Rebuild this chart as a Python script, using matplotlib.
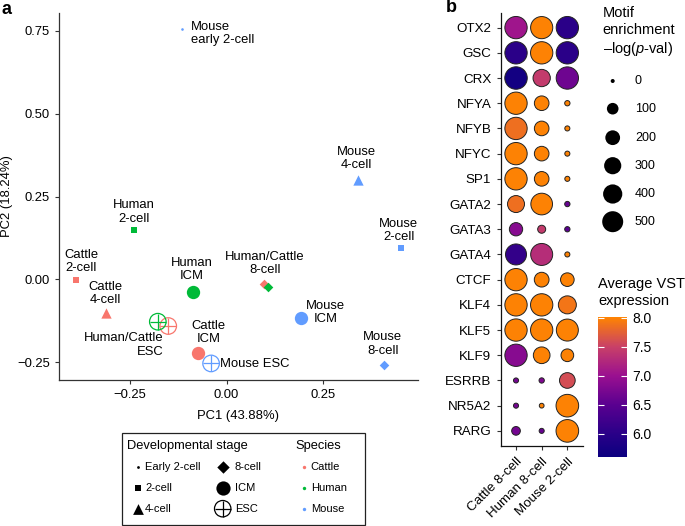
import numpy as np
import matplotlib
matplotlib.use("Agg")
import matplotlib.pyplot as plt
from matplotlib.colors import LinearSegmentedColormap, Normalize
from matplotlib.cm import ScalarMappable
from matplotlib.patches import Rectangle

plt.rcParams['font.family'] = ['Liberation Sans', 'DejaVu Sans']
plt.rcParams['mathtext.fontset'] = 'custom'
plt.rcParams['mathtext.rm'] = 'Liberation Sans'
plt.rcParams['mathtext.it'] = 'Liberation Sans:italic'

# ---------------- Panel a data ----------------
samples = ['Cattle 2-cell', 'Cattle 4-cell', 'Cattle 8-cell', 'Cattle ICM', 'Cattle ESC',
           'Human 2-cell', 'Human 8-cell', 'Human ICM', 'Human ESC',
           'Mouse early 2-cell', 'Mouse 2-cell', 'Mouse 4-cell', 'Mouse 8-cell', 'Mouse ICM', 'Mouse ESC']
species = ['Cattle'] * 5 + ['Human'] * 4 + ['Mouse'] * 6
stage = ['2-cell', '4-cell', '8-cell', 'ICM', 'ESC',
         '2-cell', '8-cell', 'ICM', 'ESC',
         'Early 2-cell', '2-cell', '4-cell', '8-cell', 'ICM', 'ESC']
pc1 = [-0.390, -0.313, 0.097, -0.074, -0.151,
       -0.239, 0.107, -0.086, -0.178,
       -0.115, 0.451, 0.341, 0.409, 0.193, -0.040]
pc2 = [-0.002, -0.103, -0.014, -0.222, -0.141,
       0.149, -0.024, -0.037, -0.128,
       0.755, 0.094, 0.300, -0.258, -0.118, -0.254]

label_texts = ['Mouse\nearly 2-cell', 'Mouse\n4-cell', 'Mouse\n2-cell', 'Human\n2-cell',
               'Cattle\n2-cell', 'Cattle\n4-cell', 'Human\nICM', 'Human/Cattle\n8-cell',
               'Mouse\nICM', 'Mouse\n8-cell', 'Cattle\nICM', 'Human/Cattle\nESC', 'Mouse ESC']
label_x = [-0.0925, 0.337, 0.446, -0.240, -0.376, -0.313, -0.089, 0.099, 0.256, 0.405, -0.047, -0.164, -0.0174]
label_y = [0.742, 0.364, 0.147, 0.203, 0.053, -0.0435, 0.0305, 0.047, -0.101, -0.195, -0.160, -0.1985, -0.257]
label_ha = ['left', 'center', 'center', 'center', 'center', 'center', 'center', 'center',
            'center', 'center', 'center', 'right', 'left']

species_list = ['Cattle', 'Human', 'Mouse']
species_colors = {'Cattle': '#F8766D', 'Human': '#00BA38', 'Mouse': '#619CFF'}
stage_list = ['Early 2-cell', '2-cell', '4-cell', '8-cell', 'ICM', 'ESC']
stage_marker = {'Early 2-cell': 'o', '2-cell': 's', '4-cell': '^', '8-cell': 'D', 'ICM': 'o', 'ESC': 'o'}
stage_size = {'Early 2-cell': 3.5, '2-cell': 14, '4-cell': 55, '8-cell': 24, 'ICM': 92, 'ESC': 142}

# ---------------- Panel b data ----------------
tfs = ['OTX2', 'GSC', 'CRX', 'NFYA', 'NFYB', 'NFYC', 'SP1', 'GATA2', 'GATA3', 'GATA4',
       'CTCF', 'KLF4', 'KLF5', 'KLF9', 'ESRRB', 'NR5A2', 'RARG']
groups = ['Cattle 8-cell', 'Human 8-cell', 'Mouse 2-cell']
enrich_cattle = [580, 580, 590, 580, 580, 580, 580, 292, 150, 500, 580, 580, 580, 580, 2, 2, 38]
enrich_human = [570, 580, 306, 195, 195, 195, 195, 540, 28, 560, 200, 580, 580, 278, 3, 1, 2]
enrich_mouse = [580, 580, 580, 3, 2, 2, 2, 3, 3, 2, 160, 339, 560, 131, 236, 600, 600]
expr_cattle = [7.05, 6.0, 5.7, 8.0, 7.85, 8.0, 8.0, 7.85, 6.85, 6.1, 8.0, 8.0, 8.0, 6.85, 6.7, 6.7, 6.7]
expr_human = [8.0, 8.0, 7.45, 8.0, 8.0, 8.0, 8.0, 8.0, 7.45, 7.3, 8.0, 8.0, 8.0, 8.0, 6.8, 8.0, 6.6]
expr_mouse = [6.0, 6.0, 6.65, 8.0, 8.0, 8.0, 8.0, 6.6, 6.5, 8.0, 8.0, 7.9, 8.0, 8.0, 7.6, 8.0, 8.0]
size_legend_values = [0, 100, 200, 300, 400, 500]
cbar_ticks = [6.0, 6.5, 7.0, 7.5, 8.0]

enrich = [enrich_cattle, enrich_human, enrich_mouse]
expr = [expr_cattle, expr_human, expr_mouse]

vmin, vmax = 5.6, 8.02
cmap = LinearSegmentedColormap.from_list('vst', [
    (0.0, '#0C0080'),
    ((6.0 - vmin) / (vmax - vmin), '#2A0088'),
    ((6.5 - vmin) / (vmax - vmin), '#5A0090'),
    ((7.0 - vmin) / (vmax - vmin), '#9A1090'),
    ((7.5 - vmin) / (vmax - vmin), '#C84068'),
    (1.0, '#FF8400')])
norm = Normalize(vmin=vmin, vmax=vmax)


def bubble_area(v):
    d = 4 + 17 * np.sqrt(np.asarray(v, dtype=float) / 500.0)
    return (d * 72.0 / 100.0) ** 2


W, H = 685, 526
fig = plt.figure(figsize=(W / 100, H / 100), dpi=100)

# ---------------- Panel a ----------------
ax = fig.add_axes([59 / W, 1 - 380 / H, 359 / W, 367 / H])
ax.set_xlim(-0.434, 0.496)
ax.set_ylim(-0.304, 0.804)
for i in range(len(samples)):
    col = species_colors[species[i]]
    st = stage[i]
    if st == 'ESC':
        ax.scatter(pc1[i], pc2[i], s=stage_size[st], marker='o', facecolor='none',
                   edgecolor=col, linewidth=0.9, zorder=3)
        ax.scatter(pc1[i], pc2[i], s=stage_size[st], marker='+', color=col,
                   linewidth=0.9, zorder=3)
    else:
        ax.scatter(pc1[i], pc2[i], s=stage_size[st], marker=stage_marker[st], color=col,
                   linewidth=0, zorder=3)
for t, x, y, ha in zip(label_texts, label_x, label_y, label_ha):
    ax.text(x, y, t, ha=ha, va='center', fontsize=9.4, multialignment=ha, linespacing=1.15,
            zorder=4)
ax.set_xticks([-0.25, 0.0, 0.25])
ax.set_xticklabels(['\u22120.25', '0.00', '0.25'])
ax.set_yticks([-0.25, 0.0, 0.25, 0.5, 0.75])
ax.set_yticklabels(['\u22120.25', '0.00', '0.25', '0.50', '0.75'])
for sp in ['top', 'right']:
    ax.spines[sp].set_visible(False)
for sp in ['left', 'bottom']:
    ax.spines[sp].set_linewidth(0.9)
    ax.spines[sp].set_color('#333333')
ax.tick_params(length=3, width=0.8, color='#333333', labelsize=9.4, pad=3.5)
ax.set_xlabel('PC1 (43.88%)', fontsize=9.4)
ax.set_ylabel('PC2 (18.24%)', fontsize=9.4)
ax.xaxis.set_label_coords(0.5, (380 - 416) / 367)
ax.xaxis.label.set_va('center')
ax.yaxis.set_label_coords((7 - 59) / 359, 0.5)
ax.yaxis.label.set_va('center')

# ---------------- Panel b ----------------
axb = fig.add_axes([501 / W, 1 - 446 / H, 82 / W, 433 / H])
ypos = np.arange(len(tfs), 0, -1)
for j in range(len(groups)):
    axb.scatter(np.full(len(tfs), j + 1), ypos, s=bubble_area(enrich[j]), c=expr[j],
                cmap=cmap, norm=norm, edgecolor='#222222', linewidth=0.7, zorder=3)
axb.set_xlim(0.415, 3.61)
axb.set_ylim(0.4, 17.58)
axb.set_yticks(ypos)
axb.set_yticklabels(tfs)
axb.set_xticks([1, 2, 3])
axb.set_xticklabels(groups, rotation=45, ha='right', va='top', rotation_mode='anchor')
for sp in ['top', 'right']:
    axb.spines[sp].set_visible(False)
for sp in ['left', 'bottom']:
    axb.spines[sp].set_linewidth(0.9)
    axb.spines[sp].set_color('#111111')
axb.tick_params(length=3, width=0.8, color='#333333', labelsize=9.6, pad=4)

# colorbar
cax = fig.add_axes([598 / W, 1 - 456.7 / H, 29 / W, 140 / H])
cb = fig.colorbar(ScalarMappable(norm=norm, cmap=cmap), cax=cax, ticks=cbar_ticks)
cb.outline.set_visible(False)
cb.ax.set_yticklabels([f'{v:.1f}' for v in cbar_ticks])
cax.tick_params(direction='in', color='white', length=4, width=0.8, left=True, right=True,
                labelsize=10, pad=4)

# ---------------- overlay for legends / panel letters ----------------
ov = fig.add_axes([0, 0, 1, 1])
ov.set_xlim(0, W)
ov.set_ylim(H, 0)
ov.axis('off')
ov.patch.set_alpha(0)

ov.text(1, 10, 'a', fontsize=13, fontweight='bold', va='center', ha='left')
ov.text(446, 8, 'b', fontsize=13, fontweight='bold', va='center', ha='left')

# panel a legend
ov.add_patch(Rectangle((122, 433), 243, 92, fill=False, linewidth=0.9, edgecolor='#222222'))
ov.text(126.7, 446, 'Developmental stage', fontsize=9.3, va='center', ha='left')
ov.text(295, 446, 'Species', fontsize=9.3, va='center', ha='left')
row_y = [467.3, 488.3, 508.7]
leg_sizes = {'Early 2-cell': 4, '2-cell': 20, '4-cell': 60, '8-cell': 40, 'ICM': 105, 'ESC': 140}
for k, st in enumerate(stage_list):
    colx = 137.7 if k < 3 else 222.7
    tx = 145 if k < 3 else 235
    yy = row_y[k % 3]
    if st == 'ESC':
        ov.scatter(colx, yy, s=leg_sizes[st], marker='o', facecolor='none', edgecolor='black',
                   linewidth=0.9)
        ov.scatter(colx, yy, s=leg_sizes[st], marker='+', color='black', linewidth=0.9)
    else:
        ov.scatter(colx, yy, s=leg_sizes[st], marker=stage_marker[st], color='black', linewidth=0)
    ov.text(tx, yy, st, fontsize=8, va='center', ha='left')
for k, spn in enumerate(species_list):
    ov.scatter(304, row_y[k], s=6, color=species_colors[spn], linewidth=0)
    ov.text(310.7, row_y[k], spn, fontsize=8, va='center', ha='left')

# panel b size legend
ov.text(602.7, 13, 'Motif', fontsize=10.5, va='center', ha='left')
ov.text(602.7, 30.5, 'enrichment', fontsize=10.5, va='center', ha='left')
ov.text(602.7, 48.5, '\u2013log($p$-val)', fontsize=10.5, va='center', ha='left')
size_leg_y = [81, 108.7, 137.7, 165.7, 194, 221.7]
ov.scatter(np.full(len(size_legend_values), 612.7), size_leg_y,
           s=bubble_area(size_legend_values), color='black', linewidth=0)
for v, yy in zip(size_legend_values, size_leg_y):
    ov.text(635, yy, str(v), fontsize=9, va='center', ha='left')

ov.text(598.3, 284, 'Average VST', fontsize=10.5, va='center', ha='left')
ov.text(598.3, 301, 'expression', fontsize=10.5, va='center', ha='left')

fig.savefig('out.png', dpi=100)
